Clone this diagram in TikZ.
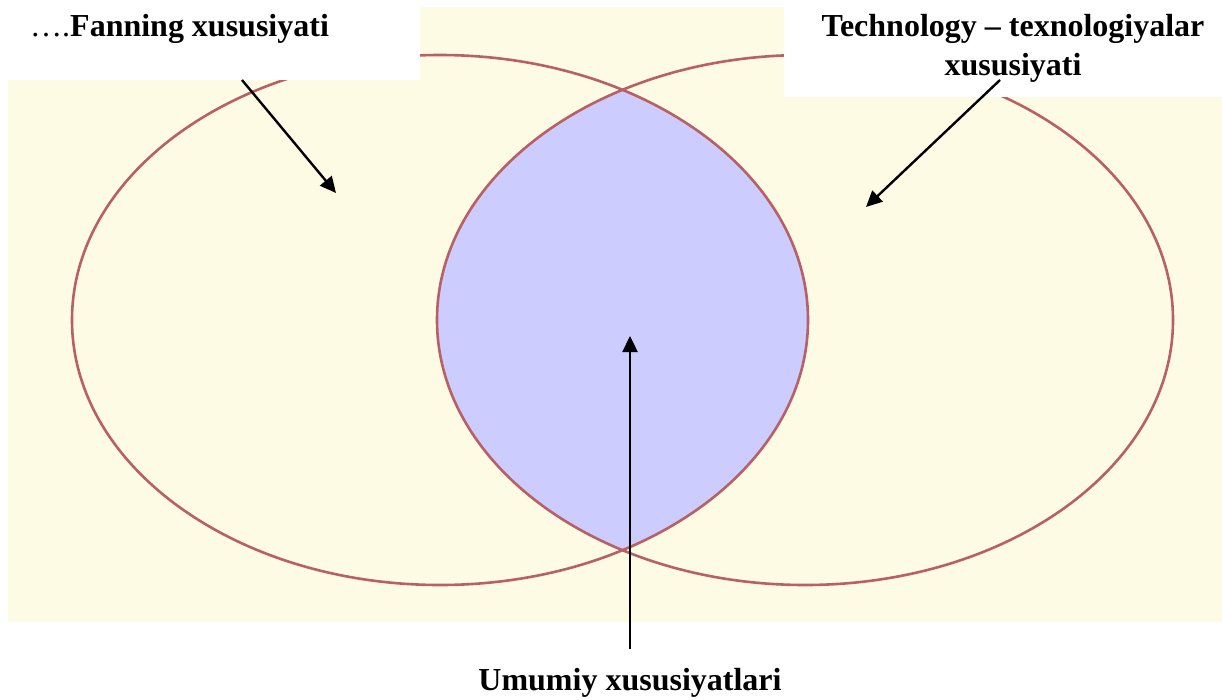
\documentclass[tikz,border=0pt]{standalone}
\usepackage{fontspec}
\setmainfont{Liberation Serif}
\usetikzlibrary{arrows.meta}
\definecolor{cream}{RGB}{254,251,228}
\definecolor{lens}{RGB}{204,204,255}
\definecolor{rim}{RGB}{184,96,102}
\tikzset{
  rimline/.style={draw=rim,line width=2.6pt},
  whitebox/.style={fill=white,draw=none},
  lbl/.style={font=\fontsize{32}{39}\selectfont\bfseries,anchor=base,inner sep=0pt},
  arr/.style={draw=black,line width=2.4pt,-{Triangle[length=16pt,width=15pt]}}
}
\begin{document}
\begin{tikzpicture}[x=1pt,y=-1pt]
\useasboundingbox (0,0) rectangle (1222,699);
\fill[white] (0,0) rectangle (1222,699);
% cream background
\fill[cream] (8,7) rectangle (1222,622);
% lens
\begin{scope}
  \clip (440,320) ellipse [x radius=368, y radius=265];
  \fill[lens] (805,320) ellipse [x radius=368, y radius=265];
\end{scope}
% ellipses
\path[rimline] (440,320) ellipse [x radius=368, y radius=265];
\path[rimline] (805,320) ellipse [x radius=368, y radius=265];
% white label boxes
\fill[whitebox] (0,0) rectangle (420,80);
\fill[whitebox] (784,0) rectangle (1222,97);
% labels
\node[lbl,anchor=base west] (fan) at (30,36) {\mdseries….\bfseries Fanning xususiyati};
\node[lbl] (tech1) at (1013,36) {Technology – texnologiyalar};
\node[lbl] (tech2) at (1013,75) {xususiyati};
\node[lbl] (umum) at (630,690) {Umumiy xususiyatlari};
% arrow coordinates
\coordinate (fanstart) at (242,80);
\coordinate (fantip) at (336,193);
\coordinate (techstart) at (1000,80);
\coordinate (techtip) at (866,207);
\coordinate (umstart) at (630,649);
\coordinate (umtip) at (630,336);
\draw[arr] (fanstart) -- (fantip);
\draw[arr] (techstart) -- (techtip);
\draw[arr] (umstart) -- (umtip);
\end{tikzpicture}
\end{document}
